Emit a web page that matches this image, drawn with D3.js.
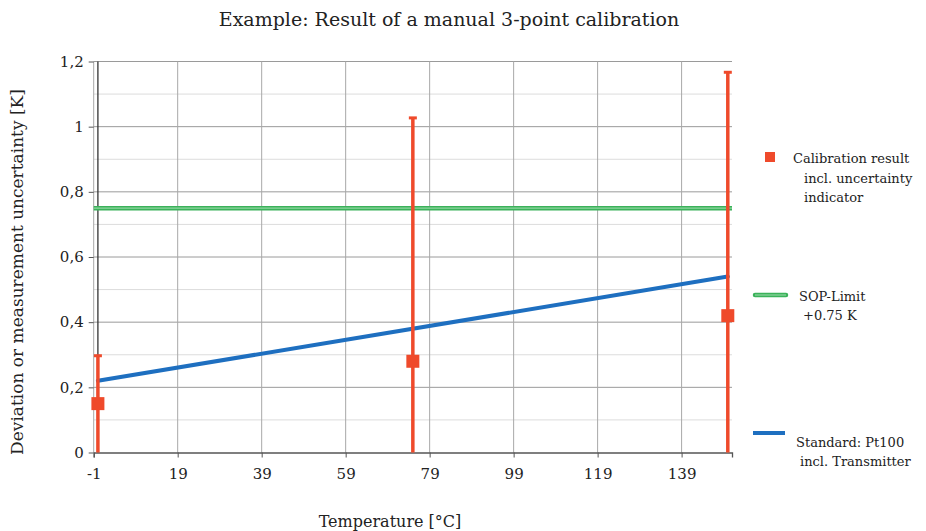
<!DOCTYPE html>
<html>
<head>
<meta charset="utf-8">
<script src="https://cdn.jsdelivr.net/npm/d3@7"></script>
<style>
  html, body { margin: 0; padding: 0; background: #fff; }
  svg { display: block; }
  text { font-family: "DejaVu Serif", "Liberation Serif", serif; fill: #222; }
</style>
</head>
<body>
<svg id="chart" width="926" height="531"></svg>
<script>
// Calibration points: temperature, deviation, upper uncertainty limit
const calTemps = [0, 75, 150];
const calDeviation = [0.15, 0.28, 0.42];
const calUpper = [0.30, 1.03, 1.17];
const calLower = [0, 0, 0];

// Reference standard (Pt100 incl. transmitter) uncertainty line
const stdTemps = [0, 150];
const stdValues = [0.22, 0.54];

// SOP limit
const sopLimit = 0.75;

// Axis ticks
const xTicks = [-1, 19, 39, 59, 79, 99, 119, 139];
const yTicks = [0, 0.2, 0.4, 0.6, 0.8, 1.0, 1.2];
const yMinorTicks = [0.1, 0.3, 0.5, 0.7, 0.9, 1.1];

const fmtY = v => (v === 0 ? "0" : v === 1 ? "1" : d3.format(".1f")(v).replace(".", ","));
const fmtX = v => String(v);

const svg = d3.select("#chart");
const x = d3.scaleLinear().domain([-1, 151]).range([93.7, 732]);
const y = d3.scaleLinear().domain([0, 1.2]).range([452.5, 61.5]);

const red = "#ef4a2b", blue = "#1e6fc0", green = "#3bb25a";

// Minor horizontal gridlines
svg.append("g").selectAll("line").data(yMinorTicks).join("line")
  .attr("x1", x(-1)).attr("x2", x(151))
  .attr("y1", d => y(d)).attr("y2", d => y(d))
  .attr("stroke", "#dcdcdc").attr("stroke-width", 1);

// Major horizontal gridlines
svg.append("g").selectAll("line").data(yTicks.slice(1)).join("line")
  .attr("x1", x(-1)).attr("x2", x(151))
  .attr("y1", d => y(d)).attr("y2", d => y(d))
  .attr("stroke", "#9a9a9a").attr("stroke-width", 1);

// Vertical gridlines
svg.append("g").selectAll("line").data(xTicks).join("line")
  .attr("x1", d => x(d)).attr("x2", d => x(d))
  .attr("y1", y(0)).attr("y2", y(1.2))
  .attr("stroke", "#a8a8a8").attr("stroke-width", 1);

// Vertical axis line at 0 °C
svg.append("line")
  .attr("x1", x(0)).attr("x2", x(0))
  .attr("y1", y(0)).attr("y2", y(1.2))
  .attr("stroke", "#333").attr("stroke-width", 1.3);

// X axis
const xAxis = d3.axisBottom(x).tickValues(xTicks).tickSize(5).tickPadding(11).tickFormat(fmtX);
const gx = svg.append("g").attr("transform", `translate(0,${y(0)})`).call(xAxis);
gx.select(".domain").attr("stroke", "#555").attr("stroke-width", 1.3);
gx.selectAll(".tick line").attr("stroke", "#555");
gx.selectAll("text").attr("font-size", 15).attr("fill", "#222")
  .style("font-family", '"DejaVu Serif", serif');

// Y axis
const yAxis = d3.axisLeft(y).tickValues(yTicks).tickSize(5).tickPadding(5).tickFormat(fmtY);
const gy = svg.append("g").attr("transform", `translate(${x(-1)},0)`).call(yAxis);
gy.select(".domain").remove();
gy.selectAll(".tick line").attr("stroke", "#555");
gy.selectAll("text").attr("font-size", 15).attr("fill", "#222")
  .style("font-family", '"DejaVu Serif", serif');

// SOP limit line (double-tone green)
const sopLine = d3.line().x(d => x(d)).y(() => y(sopLimit));
svg.append("path").datum([-1, 151]).attr("d", sopLine)
  .attr("stroke", green).attr("stroke-width", 4.5).attr("fill", "none");
svg.append("path").datum([-1, 151]).attr("d", sopLine)
  .attr("stroke", "#8fd6a0").attr("stroke-width", 1.2).attr("fill", "none");

// Standard uncertainty line
const stdLine = d3.line().x(d => x(d[0])).y(d => y(d[1]));
svg.append("path").datum(stdTemps.map((t, i) => [t, stdValues[i]]))
  .attr("d", stdLine).attr("stroke", blue).attr("stroke-width", 4)
  .attr("fill", "none").attr("stroke-linecap", "round");

// Calibration results with uncertainty bars
const cal = calTemps.map((t, i) => ({ t, v: calDeviation[i], hi: calUpper[i], lo: calLower[i] }));
const gc = svg.append("g");
gc.selectAll("line.err").data(cal).join("line").attr("class", "err")
  .attr("x1", d => x(d.t)).attr("x2", d => x(d.t))
  .attr("y1", d => y(d.lo)).attr("y2", d => y(d.hi))
  .attr("stroke", red).attr("stroke-width", 3.5);
gc.selectAll("line.cap").data(cal).join("line").attr("class", "cap")
  .attr("x1", d => x(d.t) - 4).attr("x2", d => x(d.t) + 4)
  .attr("y1", d => y(d.hi) + 1).attr("y2", d => y(d.hi) + 1)
  .attr("stroke", red).attr("stroke-width", 3);
gc.selectAll("rect").data(cal).join("rect")
  .attr("x", d => x(d.t) - 6.5).attr("y", d => y(d.v) - 6.5)
  .attr("width", 13).attr("height", 13).attr("fill", red);

// Title
svg.append("text").attr("x", 449).attr("y", 26).attr("text-anchor", "middle")
  .attr("font-size", 19).text("Example: Result of a manual 3-point calibration");

// Axis titles
svg.append("text").attr("x", 390).attr("y", 527).attr("text-anchor", "middle")
  .attr("font-size", 16).text("Temperature [°C]");
svg.append("text").attr("transform", "translate(23,272) rotate(-90)")
  .attr("text-anchor", "middle").attr("font-size", 17)
  .text("Deviation or measurement uncertainty [K]");

// Legend
const lg = svg.append("g").attr("font-size", 13);
lg.append("rect").attr("x", 765).attr("y", 152).attr("width", 10).attr("height", 10).attr("fill", red);
lg.append("text").attr("x", 793).attr("y", 163).text("Calibration result");
lg.append("text").attr("x", 804).attr("y", 183).text("incl. uncertainty");
lg.append("text").attr("x", 804).attr("y", 202).text("indicator");

lg.append("line").attr("x1", 755).attr("x2", 786).attr("y1", 295).attr("y2", 295)
  .attr("stroke", green).attr("stroke-width", 4.5).attr("stroke-linecap", "round");
lg.append("line").attr("x1", 755).attr("x2", 786).attr("y1", 295).attr("y2", 295)
  .attr("stroke", "#8fd6a0").attr("stroke-width", 1.2);
lg.append("text").attr("x", 799).attr("y", 301).text("SOP-Limit");
lg.append("text").attr("x", 803).attr("y", 320).text("+0.75 K");

lg.append("line").attr("x1", 753).attr("x2", 785).attr("y1", 433).attr("y2", 433)
  .attr("stroke", blue).attr("stroke-width", 4);
lg.append("text").attr("x", 796).attr("y", 447).text("Standard: Pt100");
lg.append("text").attr("x", 800).attr("y", 466).text("incl. Transmitter");
</script>
</body>
</html>
